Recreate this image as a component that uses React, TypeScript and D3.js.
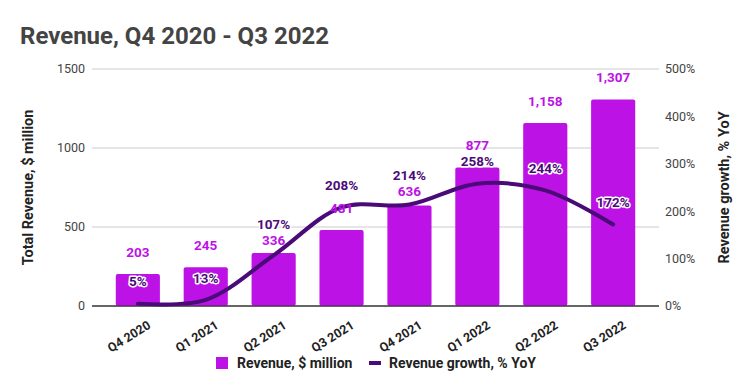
import * as d3 from "d3";
import React from "react";

// quarters and values
const quarters = ["Q4 2020", "Q1 2021", "Q2 2021", "Q3 2021", "Q4 2021", "Q1 2022", "Q2 2022", "Q3 2022"];
const revenue = [203, 245, 336, 481, 636, 877, 1158, 1307];
const growth = [5, 13, 107, 208, 214, 258, 244, 172];
const revenueTicks = [0, 500, 1000, 1500];
const growthTicks = [0, 100, 200, 300, 400, 500];

const W = 753;
const H = 392;
const left = 92;
const right = 659;
const top = 69;
const bottom = 306;

const barColor = "#bc12e6";
const lineColor = "#4a0b78";
const font = "Roboto, 'Noto Sans', sans-serif";

export default function App() {
  const x = d3.scaleBand().domain(quarters).range([left, right]).paddingInner(0.35).paddingOuter(0.35);
  const yL = d3.scaleLinear().domain([0, 1500]).range([bottom, top]);
  const yR = d3.scaleLinear().domain([0, 500]).range([bottom, top]);
  const cx = (q) => x(q) + x.bandwidth() / 2;
  const fmt = d3.format(",");

  const line = d3
    .line()
    .x((d) => d[0])
    .y((d) => d[1])
    .curve(d3.curveCatmullRom.alpha(0.5));
  const pts = quarters.map((q, i) => [cx(q), yR(growth[i])]);

  // label placement: 22px above the mark, pushed apart when they collide
  // (growth label goes on top when they clash)
  const labels = quarters.map((q, i) => {
    let b = yL(revenue[i]) - 22;
    let g = yR(growth[i]) - 22;
    const minGap = 16;
    if (Math.abs(b - g) < minGap) {
      const mid = (b + g) / 2;
      g = mid - minGap / 2;
      b = mid + minGap / 2;
    }
    return { b, g };
  });

  return (
    <svg
      width={W}
      height={H}
      style={{ position: "absolute", left: 0, top: 0, background: "#fff" }}
      fontFamily={font}
    >
      <text x={20} y={44} fontSize={24} fontWeight="bold" fill="#444">
        Revenue, Q4 2020 - Q3 2022
      </text>

      {/* gridlines and left axis */}
      {revenueTicks.map((t) => (
        <g key={t}>
          <line x1={left} x2={right} y1={yL(t)} y2={yL(t)} stroke={t === 0 ? "#333" : "#ccc"} strokeWidth={1} />
          <text x={left - 7} y={yL(t)} dy="0.35em" textAnchor="end" fontSize={12.5} fill="#444">
            {t}
          </text>
        </g>
      ))}
      {growthTicks.map((t) => (
        <text key={t} x={right + 6} y={yR(t)} dy="0.35em" fontSize={12.5} fill="#444">
          {t}%
        </text>
      ))}

      <text
        transform={`translate(33, ${(top + bottom) / 2}) rotate(-90)`}
        textAnchor="middle"
        fontSize={14.5}
        fontWeight="bold"
        fill="#222"
      >
        Total Revenue, $ million
      </text>
      <text
        transform={`translate(729, ${(top + bottom) / 2}) rotate(-90)`}
        textAnchor="middle"
        fontSize={14.5}
        fontWeight="bold"
        fill="#222"
      >
        Revenue growth, % YoY
      </text>

      {/* bars */}
      {quarters.map((q, i) => (
        <rect
          key={q}
          x={x(q)}
          y={yL(revenue[i])}
          width={x.bandwidth()}
          height={bottom - yL(revenue[i])}
          rx={2}
          fill={barColor}
        />
      ))}
      <line x1={left} x2={right} y1={bottom} y2={bottom} stroke="#333" />

      {/* x labels */}
      {quarters.map((q) => (
        <text
          key={q}
          transform={`translate(${cx(q) + 9}, ${bottom + 14}) rotate(-32)`}
          textAnchor="end"
          dy="0.7em"
          fontSize={12.5}
          fontWeight="bold"
          fill="#222"
        >
          {q}
        </text>
      ))}

      <path d={line(pts)} fill="none" stroke={lineColor} strokeWidth={4} strokeLinecap="round" />

      {/* data labels */}
      {quarters.map((q, i) => (
        <g key={q} fontSize={13.5} fontWeight="bold" textAnchor="middle">
          <text x={cx(q)} y={labels[i].b} dy="0.35em" fill={barColor}>
            {fmt(revenue[i])}
          </text>
          <text
            x={cx(q)}
            y={labels[i].g}
            dy="0.35em"
            fill={lineColor}
            stroke="#fff"
            strokeWidth={3}
            paintOrder="stroke"
            strokeLinejoin="round"
          >
            {growth[i]}%
          </text>
        </g>
      ))}

      {/* legend */}
      <g fontSize={14} fontWeight="bold" fill="#222">
        <rect x={216} y={357} width={12} height={12} fill={barColor} />
        <text x={237} y={363} dy="0.35em">
          Revenue, $ million
        </text>
        <rect x={369} y={361} width={12} height={4} fill={lineColor} />
        <text x={389} y={363} dy="0.35em">
          Revenue growth, % YoY
        </text>
      </g>
    </svg>
  );
}
